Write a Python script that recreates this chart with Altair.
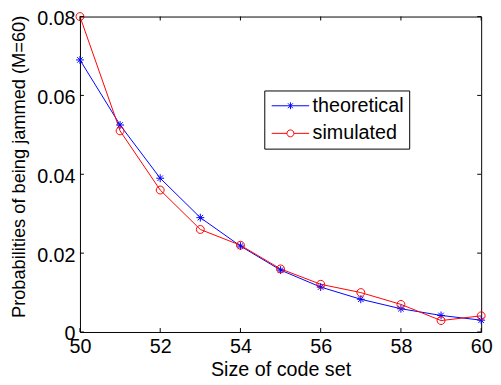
import altair as alt
import pandas as pd

# ---- data ----
code_set_sizes = [50, 51, 52, 53, 54, 55, 56, 57, 58, 59, 60]
theoretical = [0.069, 0.0525, 0.039, 0.029, 0.0218, 0.0157, 0.0114, 0.0083, 0.0059, 0.0042, 0.0030]
simulated = [0.080, 0.051, 0.036, 0.026, 0.022, 0.016, 0.0121, 0.0100, 0.0070, 0.0029, 0.0041]
series_names = ["theoretical", "simulated"]
series_colors = ["#0000ff", "#ff0000"]
x_ticks = [50, 52, 54, 56, 58, 60]
y_ticks = [0, 0.02, 0.04, 0.06, 0.08]

FONT = "Liberation Sans"
W, H = 407, 320

df_theo = pd.DataFrame({"size": code_set_sizes, "prob": theoretical, "series": series_names[0]})
df_sim = pd.DataFrame({"size": code_set_sizes, "prob": simulated, "series": series_names[1]})
df = pd.concat([df_theo, df_sim], ignore_index=True)

xs = alt.Scale(domain=[50, 60], nice=False, zero=False)
ys = alt.Scale(domain=[0, 0.08], nice=False)
cscale = alt.Scale(domain=series_names, range=series_colors)

STAR = "M-1,0H1M0,-1V1M-0.7,-0.7L0.7,0.7M-0.7,0.7L0.7,-0.7"
CIRCLE = "M-1,0A1,1 0 1,0 1,0A1,1 0 1,0 -1,0Z"
LEG_STAR = ("M-0.8,0H3.0M1.1,-0.35V0.35M0.85,-0.25L1.35,0.25M0.85,0.25L1.35,-0.25")
LEG_CIRCLE = ("M-0.8,0H0.75M1.45,0H3.0M0.75,0A0.35,0.35 0 1,0 1.45,0A0.35,0.35 0 1,0 0.75,0Z")

x_axis = alt.Axis(
    values=x_ticks, title="Size of code set", tickSize=0, domain=False, grid=False,
    labelFont=FONT, labelFontSize=20, labelColor="black", labelPadding=5,
    titleFont=FONT, titleFontSize=20, titleFontWeight="normal", titleColor="black", titlePadding=3,
    labelFlush=False)
y_axis = alt.Axis(
    values=y_ticks, format="~g", title="Probabilities of being jammed (M=60)", tickSize=0,
    domain=False, grid=False,
    labelFont=FONT, labelFontSize=20, labelColor="black", labelPadding=5, labelOffset=2,
    titleFont=FONT, titleFontSize=18.5, titleFontWeight="normal", titleColor="black", titlePadding=8,
    titleY=152, labelFlush=False)


def X(field):
    return alt.X(field, scale=xs, axis=x_axis)


def Y(field):
    return alt.Y(field, scale=ys, axis=y_axis)


line_theo = alt.Chart(df_theo).mark_line(strokeWidth=1, color=series_colors[0]).encode(
    x=X("size:Q"), y=Y("prob:Q"))
line_sim = alt.Chart(df_sim).mark_line(strokeWidth=1, color=series_colors[1]).encode(
    x=X("size:Q"), y=Y("prob:Q"))
pts_theo = alt.Chart(df_theo).mark_point(shape=STAR, size=64, filled=False, strokeWidth=1,
                                         opacity=1, color=series_colors[0]).encode(
    x=X("size:Q"), y=Y("prob:Q"))
pts_sim = alt.Chart(df_sim).mark_point(shape=CIRCLE, size=64, filled=False, strokeWidth=1,
                                       opacity=1, color=series_colors[1]).encode(
    x=X("size:Q"), y=Y("prob:Q"))

leg = alt.Legend(title=None, orient="none", legendX=187, legendY=75, strokeColor="black",
                 fillColor="white", padding=5, symbolSize=400, symbolStrokeWidth=1,
                 labelFont=FONT, labelFontSize=20, labelColor="black", rowPadding=7,
                 labelOffset=23, symbolOpacity=1)
legend_layer = alt.Chart(df).transform_filter("false").mark_point(filled=False, strokeWidth=1).encode(
    x=X("size:Q"), y=Y("prob:Q"),
    color=alt.Color("series:N", scale=cscale, legend=leg),
    shape=alt.Shape("series:N", scale=alt.Scale(domain=series_names, range=[LEG_STAR, LEG_CIRCLE]),
                    legend=leg))

xt = pd.DataFrame({"t": x_ticks})
yt = pd.DataFrame({"t": y_ticks})
xtick_b = alt.Chart(xt).mark_rule(color="black", strokeWidth=1).encode(
    x=X("t:Q"), y=alt.value(H), y2=alt.value(H - 4))
xtick_t = alt.Chart(xt).mark_rule(color="black", strokeWidth=1).encode(
    x=X("t:Q"), y=alt.value(0), y2=alt.value(4))
ytick_l = alt.Chart(yt).mark_rule(color="black", strokeWidth=1).encode(
    y=Y("t:Q"), x=alt.value(0), x2=alt.value(4))
ytick_r = alt.Chart(yt).mark_rule(color="black", strokeWidth=1).encode(
    y=Y("t:Q"), x=alt.value(W), x2=alt.value(W - 4))

chart = alt.layer(line_theo, line_sim, pts_theo, pts_sim, legend_layer,
                  xtick_b, xtick_t, ytick_l, ytick_r).properties(
    width=W, height=H,
    background="white",
    autosize=alt.AutoSizeParams(type="none"),
    padding={"left": 73, "top": 6, "right": 12, "bottom": 45},
).configure_view(stroke="black", strokeWidth=1)

chart.save("out.html", embed_options={"renderer": "svg", "actions": False})
